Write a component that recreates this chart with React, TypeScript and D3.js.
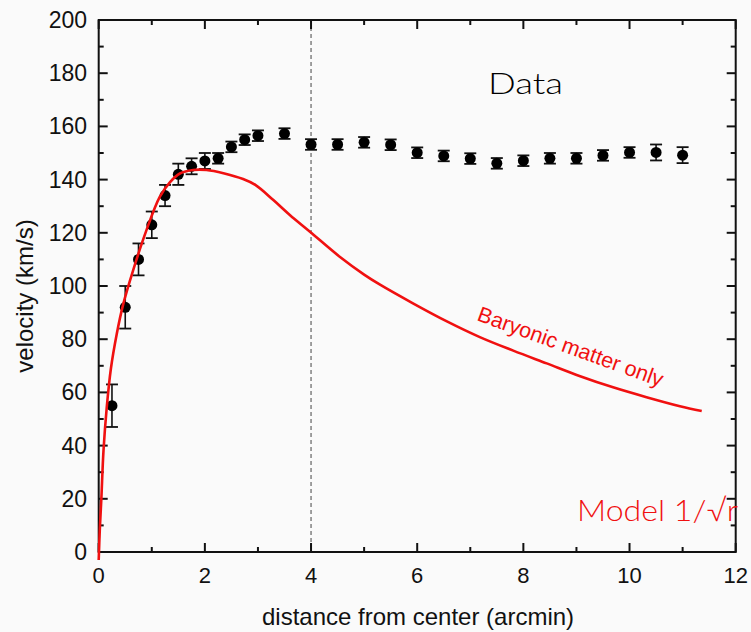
import React from "react";
import * as d3 from "d3";

const dataX = [0.25, 0.5, 0.75, 1.0, 1.25, 1.5, 1.75, 2.0, 2.25, 2.5, 2.75, 3.0, 3.5, 4.0, 4.5, 5.0, 5.5, 6.0, 6.5, 7.0, 7.5, 8.0, 8.5, 9.0, 9.5, 10.0, 10.5, 11.0];
const dataV = [55, 92, 110, 123, 134, 142, 145, 147, 148, 152.3, 155, 156.5, 157.3, 153.2, 153.2, 154, 153.1, 150.1, 148.9, 147.9, 146.1, 147.1, 148, 148, 149.1, 150.2, 150.2, 149.2];
const dataErr = [8, 8, 6, 5, 4, 4, 3, 3, 2, 2, 2, 2, 2, 2, 2, 2, 2, 2, 2, 2, 2, 2, 2, 2, 2, 2, 3, 3];

const modelX = [0, 0.02, 0.05, 0.09, 0.15, 0.23, 0.34, 0.46, 0.65, 0.9, 1.15, 1.34, 1.53, 1.78, 2.03, 2.35, 2.72, 2.95, 3.29, 3.6, 3.98, 4.54, 5.0, 5.3, 5.92, 6.55, 7.18, 7.81, 8.44, 9.07, 9.69, 10.32, 10.95, 11.36];
const modelV = [-3, 8, 20, 38, 54, 69, 82, 93, 106, 121, 133.5, 139, 142.3, 143.6, 143.6, 142.4, 140.2, 138, 132.3, 126.7, 120.4, 111, 104.3, 100.5, 93.5, 86.8, 80.8, 75.7, 70.9, 66.1, 61.9, 58.2, 54.8, 53];

const xTicks = [0, 2, 4, 6, 8, 10, 12];
const xMinor = [1, 3, 5, 7, 9, 11];
const yTicks = [0, 20, 40, 60, 80, 100, 120, 140, 160, 180, 200];
const yMinor = [10, 30, 50, 70, 90, 110, 130, 150, 170, 190];

const W = 751, H = 632;
const L = 98.7, R = 735.7, T = 20, B = 552;

export default function App() {
  const x = d3.scaleLinear().domain([0, 12]).range([L, R]);
  const y = d3.scaleLinear().domain([0, 200]).range([B, T]);
  const line = d3.line<number>().x((_, i) => x(modelX[i])).y((_, i) => y(modelV[i])).curve(d3.curveCatmullRom.alpha(0.5));
  const font = "'Liberation Sans', Arial, sans-serif";
  const maj = 9, mnr = 5;
  return (
    <div style={{ position: "absolute", left: 0, top: 0 }}>
      <svg width={W} height={H} style={{ display: "block", background: "#fafafa" }}>
        <line x1={x(4)} x2={x(4)} y1={T} y2={B} stroke="#444" strokeWidth={1} strokeDasharray="4,3" />
        <rect x={L} y={T} width={R - L} height={B - T} fill="none" stroke="#111" strokeWidth={2} />
        {xTicks.map((t) => (
          <g key={"xt" + t}>
            <line x1={x(t)} x2={x(t)} y1={B} y2={B - maj} stroke="#111" strokeWidth={2} />
            <line x1={x(t)} x2={x(t)} y1={T} y2={T + maj} stroke="#111" strokeWidth={2} />
            <text x={x(t)} y={583} textAnchor="middle" fontFamily={font} fontSize={22} fill="#111">{t}</text>
          </g>
        ))}
        {xMinor.map((t) => (
          <g key={"xm" + t}>
            <line x1={x(t)} x2={x(t)} y1={B} y2={B - mnr} stroke="#111" strokeWidth={2} />
            <line x1={x(t)} x2={x(t)} y1={T} y2={T + mnr} stroke="#111" strokeWidth={2} />
          </g>
        ))}
        {yTicks.map((t) => (
          <g key={"yt" + t}>
            <line x1={L} x2={L + maj} y1={y(t)} y2={y(t)} stroke="#111" strokeWidth={2} />
            <line x1={R} x2={R - maj} y1={y(t)} y2={y(t)} stroke="#111" strokeWidth={2} />
            <text x={87} y={y(t) + 8} textAnchor="end" fontFamily={font} fontSize={23} fill="#111">{t}</text>
          </g>
        ))}
        {yMinor.map((t) => (
          <g key={"ym" + t}>
            <line x1={L} x2={L + mnr} y1={y(t)} y2={y(t)} stroke="#111" strokeWidth={2} />
            <line x1={R} x2={R - mnr} y1={y(t)} y2={y(t)} stroke="#111" strokeWidth={2} />
          </g>
        ))}
        <text x={418} y={625} textAnchor="middle" fontFamily={font} fontSize={24} fill="#111">distance from center (arcmin)</text>
        <text transform={`translate(33,296) rotate(-90)`} textAnchor="middle" fontFamily={font} fontSize={24} fill="#111">velocity (km/s)</text>
        {dataX.map((dx, i) => {
          const cx = x(dx);
          const yt = y(dataV[i] + dataErr[i]);
          const yb = y(dataV[i] - dataErr[i]);
          return (
            <g key={"p" + i}>
              <line x1={cx} x2={cx} y1={yt} y2={yb} stroke="#111" strokeWidth={1.6} />
              <line x1={cx - 6} x2={cx + 6} y1={yt} y2={yt} stroke="#111" strokeWidth={1.8} />
              <line x1={cx - 6} x2={cx + 6} y1={yb} y2={yb} stroke="#111" strokeWidth={1.8} />
              <circle cx={cx} cy={y(dataV[i])} r={5.5} fill="#000" />
            </g>
          );
        })}
        <path d={line(modelX) || ""} fill="none" stroke="#f01010" strokeWidth={2.6} />
        <text x={488} y={94} fontFamily="Lato, 'Open Sans', sans-serif" fontSize={30} fontWeight={300} textLength={75} lengthAdjust="spacingAndGlyphs" fill="#000">Data</text>
        <text x={577} y={521} fontFamily="Lato, 'Open Sans', sans-serif" fontSize={30} fontWeight={300} textLength={161} lengthAdjust="spacingAndGlyphs" fill="#f01010">Model 1/√r</text>
        <text transform={`translate(476,320) rotate(20)`} fontFamily={font} fontSize={21.5} fill="#f01010">Baryonic matter only</text>
      </svg>
    </div>
  );
}
